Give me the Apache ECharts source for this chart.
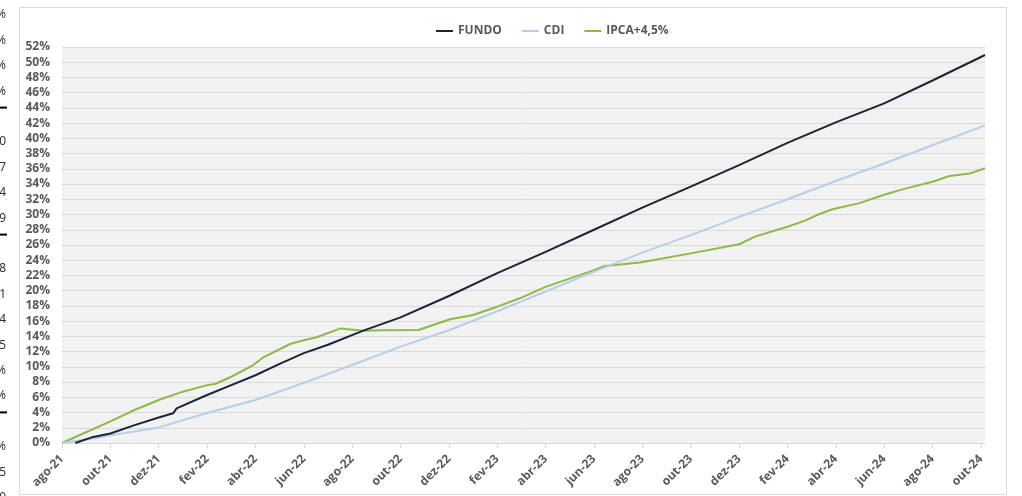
<!DOCTYPE html>
<html>
<head>
<meta charset="utf-8">
<script src="https://cdn.jsdelivr.net/npm/echarts@6/dist/echarts.min.js"></script>
<style>
  html, body { margin: 0; padding: 0; background: #fff; }
  #chartBox { width: 1022px; height: 496px; }
</style>
</head>
<body>
<div id="chartBox"></div>
<script>
// x = months since ago-21
const monthLabels = ['ago-21', 'out-21', 'dez-21', 'fev-22', 'abr-22', 'jun-22', 'ago-22', 'out-22', 'dez-22', 'fev-23',
  'abr-23', 'jun-23', 'ago-23', 'out-23', 'dez-23', 'fev-24', 'abr-24', 'jun-24', 'ago-24', 'out-24'];
const seriesNames = ['FUNDO', 'CDI', 'IPCA+4,5%'];

const fundoX = [0.55, 1.29, 2, 3, 4, 4.6, 4.74, 6, 7, 8, 9, 10, 11, 12.46, 14, 16, 18, 20, 22, 24, 26, 28, 30, 32, 34, 36, 38.17];
const fundoY = [0, 0.8, 1.25, 2.35, 3.35, 3.9, 4.55, 6.3, 7.6, 8.9, 10.4, 11.8, 12.9, 14.75, 16.5, 19.3, 22.3, 25.1, 28.0, 30.9, 33.66, 36.5, 39.4, 42.1, 44.6, 47.6, 50.95];

const cdiX = [0, 1.29, 2, 4, 6, 8, 10, 12, 14, 16, 18, 20, 22, 24, 26, 28, 30, 32, 34, 36, 38.17];
const cdiY = [0, 0.6, 1.0, 2.05, 3.95, 5.65, 7.9, 10.24, 12.65, 14.8, 17.3, 19.9, 22.5, 25.0, 27.3, 29.7, 32.0, 34.4, 36.7, 39.1, 41.7];

const ipcaX = [0, 2, 3, 4, 5, 6, 6.33, 7, 7.91, 8.33, 9.43, 10, 10.53, 11.52, 12.46, 13.29, 14.74, 16.05, 17, 18, 18.93, 20, 22, 22.45, 23.9,
  26, 28, 28.66, 30, 30.73, 31.2, 31.76, 32, 32.98, 34, 34.87, 36, 36.7, 37.55, 38.17];
const ipcaY = [0, 2.85, 4.33, 5.65, 6.74, 7.6, 7.75, 8.7, 10.24, 11.25, 13.0, 13.5, 13.88, 15.05, 14.75, 14.8, 14.84, 16.25, 16.8, 17.9, 19.0, 20.5, 22.7, 23.25, 23.7,
  24.9, 26.1, 27.1, 28.4, 29.2, 29.9, 30.6, 30.8, 31.5, 32.6, 33.4, 34.3, 35.06, 35.4, 36.07];

// glyphs of a neighbouring chart cut off at the left edge
const leftGlyphs = ['%', '%', '%', '%', '', '0', '7', '4', '9', '', '8', '1', '4', '5', '%', '%', '', '%', '5', '0'];

const zip = (xs, ys) => xs.map((x, i) => [x, ys[i]]);

const chart = echarts.init(document.getElementById('chartBox'));

const gray = '#595959';
const fontFam = '"Open Sans", "Noto Sans", sans-serif';

const graphics = [
  {
    type: 'rect',
    shape: { x: 19.5, y: 7.5, width: 987, height: 487 },
    style: { fill: 'none', stroke: '#d9d9d9', lineWidth: 1 },
    silent: true
  }
];
leftGlyphs.forEach((g, i) => {
  const y = 15 + 25.4 * i;
  if (g) {
    graphics.push({
      type: 'text', x: 6, y: y,
      style: { text: g, fill: '#333', font: '12px "Noto Sans", sans-serif', align: 'right', verticalAlign: 'middle' },
      silent: true
    });
  } else {
    graphics.push({
      type: 'line', shape: { x1: 0, y1: y - 9, x2: 7, y2: y - 9 },
      style: { stroke: '#000', lineWidth: 2 }, silent: true
    });
  }
});

const lineColors = ['#1b2438', '#b7cde9', '#8fb84a'];
const lineData = [zip(fundoX, fundoY), zip(cdiX, cdiY), zip(ipcaX, ipcaY)];

const option = {
  animation: false,
  backgroundColor: '#fff',
  graphic: graphics,
  legend: {
    top: 20,
    left: 431,
    icon: 'rect',
    itemWidth: 17,
    itemHeight: 2,
    itemGap: 20,
    textStyle: { color: gray, fontWeight: 'bold', fontSize: 12, fontFamily: fontFam },
    data: seriesNames
  },
  grid: {
    left: 62, right: 37, top: 47, bottom: 53,
    show: true, backgroundColor: '#f2f2f2', borderWidth: 0
  },
  xAxis: {
    type: 'value',
    min: 0,
    max: 38.17,
    interval: 2,
    axisLine: { show: true, lineStyle: { color: '#d9d9d9' } },
    axisTick: { show: true, length: 5, lineStyle: { color: '#d9d9d9' } },
    splitLine: { show: false },
    axisLabel: {
      rotate: 45,
      margin: 14,
      color: gray,
      fontWeight: 'bold',
      fontSize: 12,
      fontFamily: fontFam,
      showMaxLabel: false,
      formatter: v => (Number.isInteger(v / 2) ? monthLabels[v / 2] : '')
    }
  },
  yAxis: {
    type: 'value',
    min: 0,
    max: 52,
    interval: 2,
    axisLine: { show: false },
    axisTick: { show: false },
    splitLine: { lineStyle: { color: '#d9d9d9', width: 1 } },
    axisLabel: {
      color: gray,
      fontWeight: 'bold',
      fontSize: 12,
      fontFamily: fontFam,
      margin: 12,
      formatter: v => v + '%'
    }
  },
  series: seriesNames.map((name, i) => ({
    name: name,
    type: 'line',
    data: lineData[i],
    showSymbol: false,
    symbol: 'none',
    z: 3 - i,
    lineStyle: { color: lineColors[i], width: 2 },
    itemStyle: { color: lineColors[i] }
  }))
};

chart.setOption(option);
</script>
</body>
</html>
